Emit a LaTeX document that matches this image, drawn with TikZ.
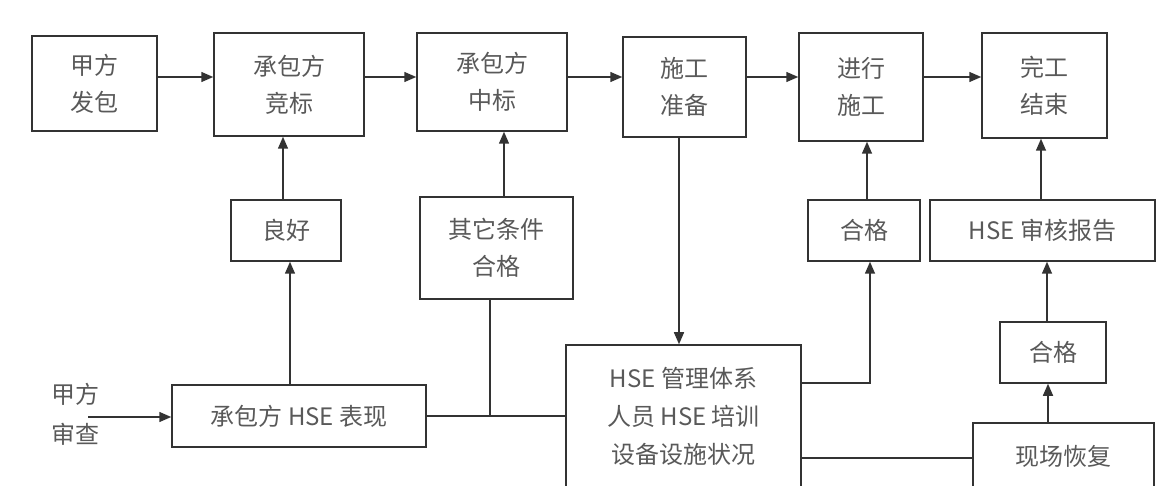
\documentclass[tikz,border=0pt]{standalone}
\usepackage{fontspec}
\setmainfont{Noto Sans CJK SC}
\usetikzlibrary{arrows.meta}
\begin{document}
\begin{tikzpicture}[x=1pt,y=-1pt,
  box/.style={draw=black!80, line width=1.5pt, inner sep=0pt, align=center, text=black!65, font=\fontsize{24}{37}\selectfont},
  lbl/.style={inner sep=0pt, align=center, text=black!65, font=\fontsize{24}{40}\selectfont},
  arr/.style={draw=black!80, line width=1.5pt, -{Triangle[length=12pt,width=10pt]}},
  ln/.style={draw=black!80, line width=1.5pt}]
\useasboundingbox (0,0) rectangle (1173,486);
\clip (0,0) rectangle (1173,486);
\coordinate (y77) at (0,77);
% top row
\node[box, minimum width=125pt, minimum height=95pt]  (fb) at (94.5,83.5) {甲方\\发包};
\node[box, minimum width=150pt, minimum height=103pt] (jb) at (289,84.5) {承包方\\竞标};
\node[box, minimum width=150pt, minimum height=98pt]  (zb) at (492,82) {承包方\\中标};
\node[box, minimum width=123pt, minimum height=100pt] (sz) at (684.5,87) {施工\\准备};
\node[box, minimum width=124pt, minimum height=108pt] (jx) at (861,87) {进行\\施工};
\node[box, minimum width=125pt, minimum height=105pt] (wg) at (1044.5,85.5) {完工\\结束};
% middle row
\node[box, minimum width=110pt, minimum height=61pt]  (lh) at (286,230.5) {良好};
\node[box, minimum width=153pt, minimum height=102pt] (qt) at (496.5,248) {其它条件\\合格};
\node[box, minimum width=112pt, minimum height=61pt]  (hg1) at (864,230.5) {合格};
\node[box, minimum width=225pt, minimum height=61pt]  (bg) at (1042.5,230.5) {HSE 审核报告};
\node[box, minimum width=106pt, minimum height=61pt]  (hg2) at (1053,352.5) {合格};
% bottom row
\node[box, minimum width=254pt, minimum height=62pt]  (bx) at (299,416) {承包方 HSE 表现};
\node[box, minimum width=235pt, minimum height=142pt, font=\fontsize{24}{38}\selectfont] (big) at (683.5,416) {HSE 管理体系\\人员 HSE 培训\\设备设施状况};
\node[box, minimum width=181pt, minimum height=66pt]  (hs) at (1063.5,456) {现场恢复};
\node[lbl] (in) at (75,414) {甲方\\审查};
\coordinate (instart) at (88,417);
\coordinate (bigA) at ([yshift=33pt]big.east);
\coordinate (bigB) at ([yshift=-42pt]big.east);
% top arrows
\draw[arr] (fb.east |- y77) -- (jb.west |- y77);
\draw[arr] (jb.east |- y77) -- (zb.west |- y77);
\draw[arr] (zb.east |- y77) -- (sz.west |- y77);
\draw[arr] (sz.east |- y77) -- (jx.west |- y77);
\draw[arr] (jx.east |- y77) -- (wg.west |- y77);
% vertical arrows
\draw[arr] ([xshift=-3pt]lh.north) -- ([xshift=-3pt]lh.north |- jb.south);
\draw[arr] ([xshift=4pt]lh.south |- bx.north) -- ([xshift=4pt]lh.south);
\draw[arr] ([xshift=7.5pt]qt.north) -- ([xshift=7.5pt]qt.north |- zb.south);
\draw[arr] ([xshift=3pt]hg1.north) -- ([xshift=3pt]hg1.north |- jx.south);
\draw[arr] ([xshift=-1.5pt]bg.north) -- ([xshift=-1.5pt]bg.north |- wg.south);
\draw[arr] ([xshift=-6pt]hg2.north) -- ([xshift=-6pt]hg2.north |- bg.south);
\draw[arr] ([xshift=-15.5pt]hs.north) -- ([xshift=-15.5pt]hs.north |- hg2.south);
\draw[arr] ([xshift=-5.5pt]sz.south) -- ([xshift=-5.5pt]sz.south |- big.north);
% joins
\draw[ln] (bx.east) -- (big.west |- bx.east);
\draw[ln] ([xshift=-6.5pt]qt.south) -- ([xshift=-6.5pt]qt.south |- bx.east);
\draw[arr] (bigA) -| ([xshift=6pt]hg1.south);
\draw[ln] (bigB) -- (hs.west |- bigB);
\draw[arr] (instart) -- (bx.west |- instart);
\end{tikzpicture}
\end{document}
